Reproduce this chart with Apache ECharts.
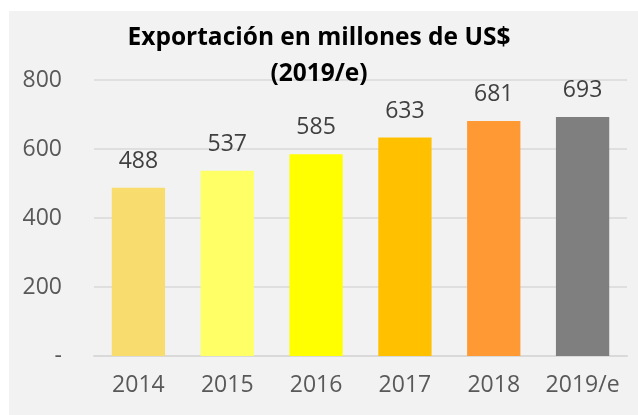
<!DOCTYPE html>
<html>
<head>
<meta charset="utf-8">
<script src="https://cdn.jsdelivr.net/npm/echarts@6/dist/echarts.min.js"></script>
<style>
    html, body { margin: 0; padding: 0; background: #ffffff; }
    #chart { width: 638px; height: 415px; }
</style>
</head>
<body>
<div id="chart"></div>
<script>
    // valores
    var years = ['2014', '2015', '2016', '2017', '2018', '2019/e'];
    var exportValues = [488, 537, 585, 633, 681, 693];
    var barColors = ['#F9DC6E', '#FFFF66', '#FFFF00', '#FFC000', '#FF9933', '#7F7F7F'];

    var myChart = echarts.init(document.getElementById('chart'));
    var fontFamily = '"Open Sans", sans-serif';

    var options = {
        backgroundColor: '#ffffff',
        animation: false,
        graphic: [{
            type: 'rect',
            z: -10,
            silent: true,
            shape: { x: 9, y: 11, width: 629, height: 404 },
            style: { fill: '#f2f2f2' }
        }],
        title: {
            text: 'Exportación en millones de US$\n(2019/e)',
            left: 'center',
            top: 15,
            textStyle: {
                fontFamily: fontFamily,
                fontSize: 24.5,
                fontWeight: 'bold',
                color: '#000000',
                lineHeight: 36
            }
        },
        grid: {
            left: 94,
            right: 11,
            top: 80,
            bottom: 59
        },
        xAxis: {
            type: 'category',
            data: years,
            axisTick: { show: false },
            axisLine: { lineStyle: { color: '#d9d9d9', width: 2 } },
            axisLabel: {
                interval: 0,
                color: '#595959',
                fontFamily: fontFamily,
                fontSize: 23,
                margin: 18
            }
        },
        yAxis: {
            type: 'value',
            min: 0,
            max: 800,
            interval: 200,
            axisLine: { show: false },
            axisTick: { show: false },
            splitLine: { lineStyle: { color: '#d9d9d9', width: 1.5 } },
            axisLabel: {
                color: '#595959',
                fontFamily: fontFamily,
                fontSize: 23,
                margin: 32,
                formatter: function (v) {
                    return v === 0 ? '-' : v;
                }
            }
        },
        series: [{
            type: 'bar',
            barWidth: '60%',
            data: exportValues.map(function (v, i) {
                return { value: v, itemStyle: { color: barColors[i] } };
            }),
            label: {
                show: true,
                position: 'top',
                distance: 15,
                color: '#404040',
                fontFamily: fontFamily,
                fontSize: 23
            }
        }]
    };
    myChart.setOption(options);
</script>
</body>
</html>
